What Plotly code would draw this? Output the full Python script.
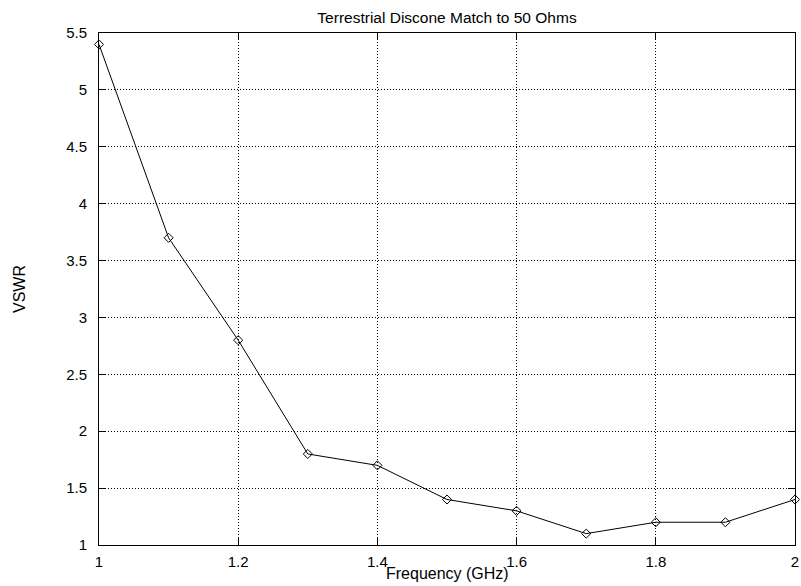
import plotly.graph_objects as go

freq_ghz = [1.0, 1.1, 1.2, 1.3, 1.4, 1.5, 1.6, 1.7, 1.8, 1.9, 2.0]
vswr = [5.4, 3.7, 2.8, 1.8, 1.7, 1.4, 1.3, 1.1, 1.2, 1.2, 1.4]
x_ticks = [1, 1.2, 1.4, 1.6, 1.8, 2]
y_ticks = [1, 1.5, 2, 2.5, 3, 3.5, 4, 4.5, 5, 5.5]

W, H = 801, 586
ML, MR, MT, MB = 99, 6, 33, 41

fig = go.Figure()
fig.add_trace(go.Scatter(
    x=freq_ghz, y=vswr, mode="lines+markers", cliponaxis=False,
    line=dict(color="black", width=1),
    marker=dict(symbol="diamond-open", size=7, color="black", line=dict(width=1, color="black")),
    showlegend=False,
))

FAM = "Liberation Sans, Arial, Helvetica, sans-serif"
tickfont = dict(family=FAM, size=15, color="black")
axis_common = dict(
    showline=True, linecolor="black", linewidth=1, mirror="ticks",
    ticks="inside", ticklen=7, tickcolor="black", tickwidth=1,
    showgrid=True, gridcolor="black", gridwidth=1, griddash="1px,2px",
    zeroline=False, tickfont=tickfont, automargin=False, autorange=False,
)

fig.update_layout(
    width=W, height=H,
    margin=dict(l=ML, r=MR, t=MT, b=MB, pad=0),
    paper_bgcolor="white", plot_bgcolor="white",
    font=dict(family=FAM, size=15, color="black"),
    title=dict(text="Terrestrial Discone Match to 50 Ohms", x=(ML + (W - ML - MR) / 2) / W,
               xanchor="center", y=1 - 17.5 / H, yanchor="middle",
               font=dict(family=FAM, size=15.5, color="black")),
    xaxis=dict(range=[1, 2], tickvals=x_ticks, ticktext=[str(v) for v in x_ticks],
               ticklabelstandoff=3, **axis_common),
    yaxis=dict(range=[1, 5.5], tickvals=y_ticks, ticktext=[str(v) for v in y_ticks],
               ticklabelstandoff=8, **axis_common),
    annotations=[
        dict(text="Frequency (GHz)", xref="paper", yref="paper", x=0.5, y=0,
             xanchor="center", yanchor="middle", yshift=-28.5, showarrow=False,
             font=dict(family=FAM, size=16, color="black")),
        dict(text="VSWR", xref="paper", yref="paper", x=0, y=0.5,
             xanchor="center", yanchor="middle", xshift=-(99 - 19), textangle=-90,
             showarrow=False, font=dict(family=FAM, size=16, color="black")),
    ],
)

fig.write_html("out.html", config={"displayModeBar": False},
               post_script="document.body.style.margin='0px';document.body.style.overflow='hidden';")
